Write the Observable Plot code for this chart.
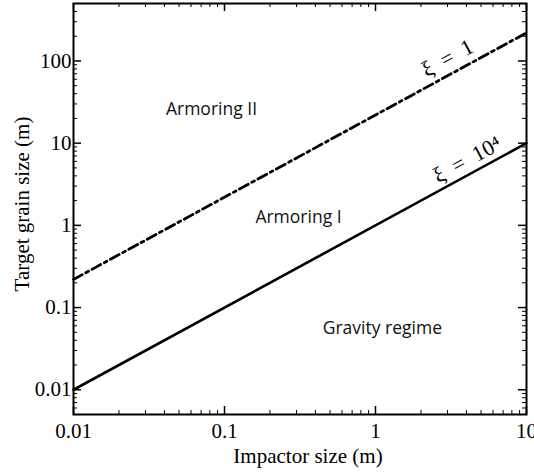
<!DOCTYPE html>
<html><head><meta charset="utf-8">
<script src="https://cdn.jsdelivr.net/npm/d3@7"></script>
<script src="https://cdn.jsdelivr.net/npm/@observablehq/plot@0.6"></script>
<style>body{margin:0;background:#fff}</style>
</head><body><div id="chart"></div>
<script>
// Data
const impactor = [0.01, 10];
const xi1 = [0.22, 220];       // ξ = 1 boundary
const xi1e4 = [0.01, 10];      // ξ = 10^4 boundary
const xMajor = [0.01, 0.1, 1, 10];
const yMajor = [0.01, 0.1, 1, 10, 100];
const xTickLabels = ["0.01", "0.1", "1", "10"];
const yTickLabels = ["0.01", "0.1", "1", "10", "100"];
const regions = [
  {label: "Armoring II", x: 0.082, y: 25.9},
  {label: "Armoring I", x: 0.309, y: 1.26},
  {label: "Gravity regime", x: 1.11, y: 0.0561}
];
const xiLabels = [
  {label: "ξ\u2002=\u20021", x: 3.0, y: 108},
  {label: "ξ\u2002=\u200210⁴", x: 4.05, y: 6.3}
];

const xDomain = [0.01, 10], yDomain = [0.005, 500];
function minors(lo, hi) {
  const out = [];
  for (let e = -4; e <= 4; e++) for (let m = 2; m <= 9; m++) {
    const v = m * Math.pow(10, e);
    if (v > lo * 1.0001 && v < hi * 0.9999) out.push(v);
  }
  return out;
}
const xMinor = minors(...xDomain), yMinor = minors(...yDomain);

const W = 534, H = 474, mL = 73, mR = 8, mT = 3, mB = 60;
const iw = W - mL - mR, ih = H - mT - mB;
const majL = 8, minL = 4;

const lineA = impactor.map((x, i) => ({x, y: xi1[i]}));
const lineB = impactor.map((x, i) => ({x, y: xi1e4[i]}));
const serif = "'Liberation Serif', 'Times New Roman', serif";

const plot = Plot.plot({
  width: W, height: H,
  marginLeft: mL, marginRight: mR, marginTop: mT, marginBottom: mB,
  style: {fontFamily: serif, background: "#fff", overflow: "visible"},
  x: {type: "log", domain: xDomain, axis: null},
  y: {type: "log", domain: yDomain, axis: null},
  marks: [
    // inward ticks on all four sides
    Plot.ruleX(xMajor, {x: d => d, insetTop: ih - majL, stroke: "#000", strokeWidth: 1.5}),
    Plot.ruleX(xMajor, {x: d => d, insetBottom: ih - majL, stroke: "#000", strokeWidth: 1.5}),
    Plot.ruleX(xMinor, {x: d => d, insetTop: ih - minL, stroke: "#000", strokeWidth: 1}),
    Plot.ruleX(xMinor, {x: d => d, insetBottom: ih - minL, stroke: "#000", strokeWidth: 1}),
    Plot.ruleY(yMajor, {y: d => d, insetRight: iw - majL, stroke: "#000", strokeWidth: 1.5}),
    Plot.ruleY(yMajor, {y: d => d, insetLeft: iw - majL, stroke: "#000", strokeWidth: 1.5}),
    Plot.ruleY(yMinor, {y: d => d, insetRight: iw - minL, stroke: "#000", strokeWidth: 1}),
    Plot.ruleY(yMinor, {y: d => d, insetLeft: iw - minL, stroke: "#000", strokeWidth: 1}),
    // tick labels
    Plot.text(xMajor, {x: d => d, frameAnchor: "bottom", lineAnchor: "middle", dy: 17,
      text: (d, i) => xTickLabels[i], fontSize: 21, fill: "#000"}),
    Plot.text(yMajor, {y: d => d, frameAnchor: "left", dx: -2, textAnchor: "end",
      text: (d, i) => yTickLabels[i], fontSize: 21, fill: "#000"}),
    // axis titles
    Plot.text(["Impactor size (m)"], {frameAnchor: "bottom", lineAnchor: "middle", dy: 42, dx: 8,
      fontSize: 21, fill: "#000"}),
    Plot.text(["Target grain size (m)"], {frameAnchor: "left", textAnchor: "middle", lineAnchor: "middle",
      dx: -51, dy: -5, rotate: -90, fontSize: 21, fill: "#000"}),
    // boundaries
    Plot.line(lineA, {x: "x", y: "y", stroke: "#000", strokeWidth: 2.8, strokeDasharray: "10,4,3,4"}),
    Plot.line(lineB, {x: "x", y: "y", stroke: "#000", strokeWidth: 2.6}),
    Plot.text(regions, {x: "x", y: "y", text: "label", fontSize: 17.5,
      fontFamily: "'Open Sans', sans-serif", fill: "#111"}),
    Plot.text(xiLabels, {x: "x", y: "y", text: "label", fontSize: 22, rotate: -28.6,
      fontFamily: serif, fill: "#000"}),
    Plot.frame({stroke: "#000", strokeWidth: 2})
  ]
});
document.getElementById("chart").appendChild(plot);
</script>
</body></html>
